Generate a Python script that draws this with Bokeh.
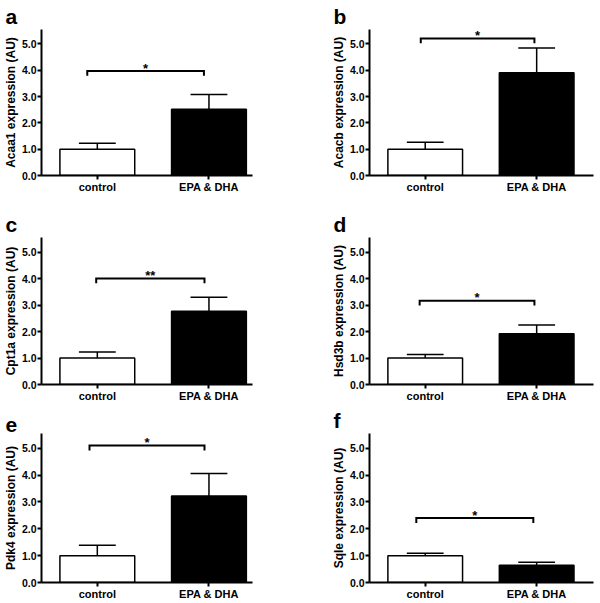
from bokeh.plotting import figure
from bokeh.layouts import column, row
from bokeh.models import Range1d, FixedTicker, PrintfTickFormatter
from bokeh.core.properties import value
from bokeh.embed import file_html
from bokeh.resources import INLINE

# ---------------- data ----------------
categories = ["control", "EPA & DHA"]
panel_letters = ["a", "b", "c", "d", "e", "f"]
genes = ["Acaa1", "Acacb", "Cpt1a", "Hsd3b", "Pdk4", "Sqle"]
control_mean = [1.00, 1.00, 1.00, 1.00, 1.00, 1.00]
control_sem = [0.23, 0.26, 0.23, 0.13, 0.39, 0.09]
epa_dha_mean = [2.52, 3.91, 2.77, 1.92, 3.22, 0.64]
epa_dha_sem = [0.56, 0.94, 0.52, 0.33, 0.84, 0.11]
sig_labels = ["*", "*", "**", "*", "*", "*"]
sig_y = [3.97, 5.21, 4.00, 3.16, 5.10, 2.40]
sig_x0 = [0.91, 0.96, 0.99, 0.95, 0.93, 0.92]
sig_x1 = [1.955, 1.98, 1.96, 1.98, 1.96, 1.97]
y_ticks = [0, 1, 2, 3, 4, 5]

# ---------------- styling / layout ----------------
FONT = "Liberation Sans"
Y_MAX = 5.55
BAR_W = 0.67
CAP_HALF = 0.165
DROP = 0.18
COL_W = [328, 272]
COL_MBL = [40, 40]
COL_MBR = [76, 7]
COL_XR = [(0.5, 2.39), (0.5, 2.51)]
TITLE_OFFSET = [-36, -36]
ROW_H = [208, 196, 199]
ROW_MBT = [27, 28, 28]
ROW_MBB = [33, 19, 21]


def make_panel(i):
    c = i % 2
    r = i // 2
    p = figure(width=COL_W[c], height=ROW_H[r],
               x_range=Range1d(*COL_XR[c]), y_range=Range1d(0, Y_MAX),
               output_backend="svg", toolbar_location=None, tools="",
               min_border_left=COL_MBL[c], min_border_right=COL_MBR[c],
               min_border_top=ROW_MBT[r], min_border_bottom=ROW_MBB[r])
    p.outline_line_color = None
    p.xgrid.visible = False
    p.ygrid.visible = False
    p.background_fill_color = "white"
    p.border_fill_color = "white"

    # panel letter as the figure title, pulled left over the axis title
    p.title.text = panel_letters[i]
    p.title.align = "left"
    p.title.offset = TITLE_OFFSET[c]
    p.title.standoff = 4
    p.title.text_font = FONT
    p.title.text_font_style = "bold"
    p.title.text_font_size = "21px"
    p.title.text_color = "black"

    xs = [1, 2]
    means = [control_mean[i], epa_dha_mean[i]]
    sems = [control_sem[i], epa_dha_sem[i]]
    tops = [m + s for m, s in zip(means, sems)]

    p.vbar(x=xs, top=means, bottom=0, width=BAR_W,
           fill_color=["white", "black"], line_color="black", line_width=1.5)
    p.segment(x0=xs, y0=means, x1=xs, y1=tops, line_color="black", line_width=1.5)
    p.segment(x0=[x - CAP_HALF for x in xs], y0=tops,
              x1=[x + CAP_HALF for x in xs], y1=tops,
              line_color="black", line_width=1.5)

    x0, x1, yb = sig_x0[i], sig_x1[i], sig_y[i]
    p.multi_line(xs=[[x0, x0, x1, x1]], ys=[[yb - DROP, yb, yb, yb - DROP]],
                 line_color="black", line_width=2, line_join="miter")
    p.text(x=[(x0 + x1) / 2], y=[yb], text=[sig_labels[i]],
           text_align="center", text_baseline="alphabetic", y_offset=-3,
           text_font=value(FONT), text_font_style="bold",
           text_font_size="13px", text_color="black")

    xa = p.xaxis[0]
    ya = p.yaxis[0]
    xa.ticker = FixedTicker(ticks=xs)
    xa.major_label_overrides = {1: categories[0], 2: categories[1]}
    ya.ticker = FixedTicker(ticks=y_ticks)
    ya.formatter = PrintfTickFormatter(format="%.1f")
    ya.axis_label = f"{genes[i]} expression (AU)"
    ya.axis_label_text_font = FONT
    ya.axis_label_text_font_style = "bold"
    ya.axis_label_text_font_size = "12px"
    ya.axis_label_text_color = "black"
    ya.axis_label_standoff = 1
    for ax, fs in ((xa, "11px"), (ya, "10.5px")):
        ax.axis_line_width = 2
        ax.axis_line_color = "black"
        ax.major_tick_line_width = 2
        ax.major_tick_line_color = "black"
        ax.major_tick_out = 4
        ax.major_tick_in = 0
        ax.minor_tick_line_color = None
        ax.major_label_text_font = FONT
        ax.major_label_text_font_style = "bold"
        ax.major_label_text_font_size = fs
        ax.major_label_text_color = "black"
        ax.major_label_standoff = 1
    return p


panels = [make_panel(i) for i in range(6)]
layout = column(row(panels[0], panels[1], spacing=0),
                row(panels[2], panels[3], spacing=0),
                row(panels[4], panels[5], spacing=0), spacing=0)

open("out.html", "w").write(file_html(layout, INLINE))
